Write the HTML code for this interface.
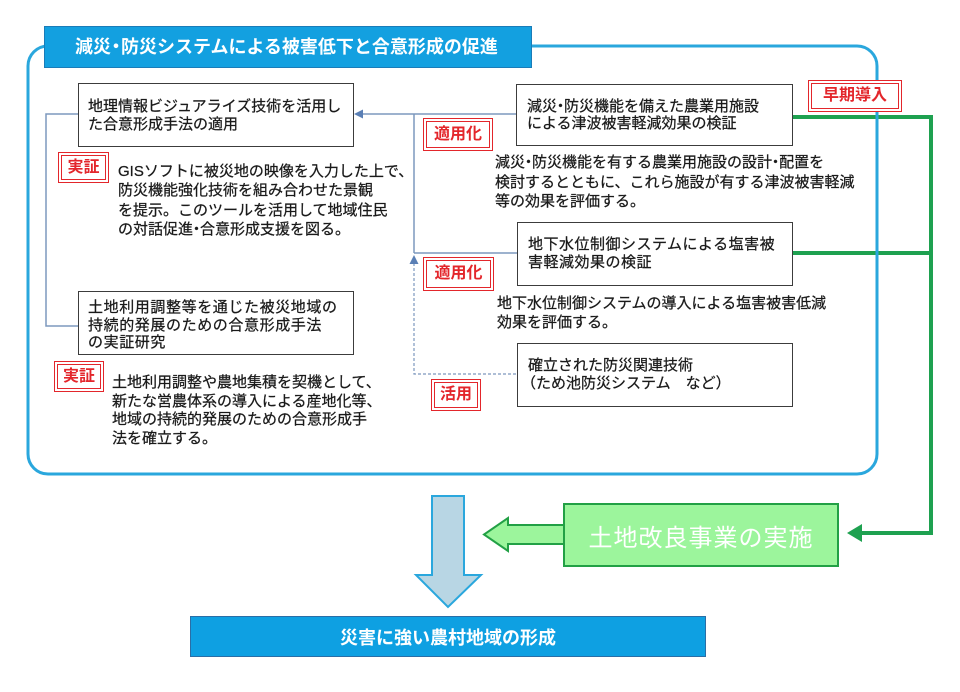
<!DOCTYPE html>
<html><head><meta charset="utf-8">
<style>
*{margin:0;padding:0;box-sizing:border-box;}
html,body{width:960px;height:692px;background:#fff;overflow:hidden;}
body{position:relative;font-family:"Liberation Sans","Noto Sans CJK JP",sans-serif;color:#1a1a1a;}
.abs{position:absolute;}
.box{position:absolute;background:#fff;border:1.5px solid #3c3c3c;}
.t{position:absolute;font-size:15px;white-space:nowrap;-webkit-text-stroke:0.25px #1a1a1a;}
.badge{position:absolute;background:#fff;border:4px double #e3262b;color:#e3262b;font-weight:bold;font-size:16px;display:flex;align-items:center;justify-content:center;white-space:nowrap;line-height:1;}
.d{display:inline-block;margin:0 -4px;}
.p{display:inline-block;margin-left:-7px;}
</style></head><body>

<svg class="abs" style="left:0;top:0" width="960" height="692" viewBox="0 0 960 692">
  <rect x="28" y="46" width="849" height="428" rx="20" ry="20" fill="#fff" stroke="#2aa7dd" stroke-width="3"/>
  <polyline points="78,114 46,114 46,326 78,326" fill="none" stroke="#7d98bd" stroke-width="1.5"/>
  <line x1="360" y1="114" x2="516" y2="114" stroke="#7d98bd" stroke-width="1.5"/>
  <line x1="414" y1="114" x2="414" y2="253" stroke="#7d98bd" stroke-width="1.5"/>
  <line x1="414" y1="253" x2="517" y2="253" stroke="#7d98bd" stroke-width="1.5"/>
  <polygon points="354,114 363,109.5 363,118.5" fill="#5a7fb5"/>
  <polyline points="414,263 414,374 517,374" fill="none" stroke="#7d98bd" stroke-width="1.2" stroke-dasharray="3,2"/>
  <polygon points="414,255 409.5,264 418.5,264" fill="#5a7fb5"/>
  <polyline points="792,117 931,117 931,533 860,533" fill="none" stroke="#1ea150" stroke-width="4"/>
  <line x1="792" y1="253" x2="931" y2="253" stroke="#1ea150" stroke-width="4"/>
  <polygon points="847,533 862,524 862,542" fill="#1ea150"/>
  <line x1="877" y1="66" x2="877" y2="454" stroke="#2aa7dd" stroke-width="3"/>
  <polygon points="432,496 464,496 464,575 481,575 448,607 416,575 432,575" fill="#b8d6e4" stroke="#2aa7dd" stroke-width="2"/>
  <polygon points="565,525 508,525 508,518 484,534.5 508,551 508,544 565,544" fill="#9cf59c" stroke="#22a045" stroke-width="2"/>
</svg>

<div class="abs" style="left:44px;top:26px;width:488px;height:42px;background:#13a0e0;border:1px solid #1a7cb8;"></div>
<div class="abs" style="left:75px;top:35px;font-size:18px;font-weight:bold;color:#fff;white-space:nowrap;line-height:24px;">減災<span class="d">・</span>防災システムによる被害低下と合意形成の促進</div>

<div class="box" style="left:78px;top:83px;width:276px;height:64px;"></div>
<div class="t" style="left:88px;top:98px;line-height:18px;">地理情報ビジュアライズ技術を活用し<br>た合意形成手法の適用</div>

<div class="box" style="left:78px;top:291px;width:276px;height:64px;"></div>
<div class="t" style="left:88px;top:299px;line-height:17.5px;letter-spacing:0.6px;">土地利用調整等を通じた被災地域の<br>持続的発展のための合意形成手法<br>の実証研究</div>

<div class="box" style="left:516px;top:84px;width:277px;height:62px;"></div>
<div class="t" style="left:527px;top:98px;line-height:17px;">減災<span class="d">・</span>防災機能を備えた農業用施設<br>による津波被害軽減効果の検証</div>

<div class="box" style="left:517px;top:222px;width:276px;height:64px;"></div>
<div class="t" style="left:528px;top:236px;line-height:18px;letter-spacing:0.5px;">地下水位制御システムによる塩害被<br>害軽減効果の検証</div>

<div class="box" style="left:517px;top:343px;width:276px;height:64px;"></div>
<div class="t" style="left:528px;top:357px;line-height:18px;">確立された防災関連技術<br><span class="p">（</span>ため池防災システム　など）</div>

<div class="t" style="left:118px;top:162px;line-height:19.4px;">GISソフトに被災地の映像を入力した上で、<br>防災機能強化技術を組み合わせた景観<br>を提示。このツールを活用して地域住民<br>の対話促進<span class="d">・</span>合意形成支援を図る。</div>

<div class="t" style="left:495px;top:153px;line-height:19.5px;">減災<span class="d">・</span>防災機能を有する農業用施設の設計<span class="d">・</span>配置を<br>検討するとともに、これら施設が有する津波被害軽減<br>等の効果を評価する。</div>

<div class="t" style="left:497px;top:293.5px;line-height:19px;">地下水位制御システムの導入による塩害被害低減<br>効果を評価する。</div>

<div class="t" style="left:112px;top:374px;line-height:18.7px;">土地利用調整や農地集積を契機として、<br>新たな営農体系の導入による産地化等、<br>地域の持続的発展のための合意形成手<br>法を確立する。</div>

<div class="badge" style="left:58px;top:152px;width:51px;height:31px;">実証</div>
<div class="badge" style="left:54px;top:361px;width:50px;height:31px;">実証</div>
<div class="badge" style="left:423px;top:118px;width:70px;height:33px;">適用化</div>
<div class="badge" style="left:423px;top:257px;width:71px;height:34px;">適用化</div>
<div class="badge" style="left:431px;top:379px;width:50px;height:32px;">活用</div>
<div class="badge" style="left:808px;top:80px;width:94px;height:32px;">早期導入</div>

<div class="abs" style="left:563px;top:503px;width:276px;height:64px;background:#9cf59c;border:2.5px solid #22a045;display:flex;align-items:center;justify-content:center;color:#fff;font-size:24px;letter-spacing:1px;white-space:nowrap;">土地改良事業の実施</div>

<div class="abs" style="left:190px;top:616px;width:516px;height:41px;background:#0ea0e2;border:1px solid #2a6ea6;display:flex;align-items:center;justify-content:center;color:#fff;font-size:18px;font-weight:bold;white-space:nowrap;">災害に強い農村地域の形成</div>

</body></html>
